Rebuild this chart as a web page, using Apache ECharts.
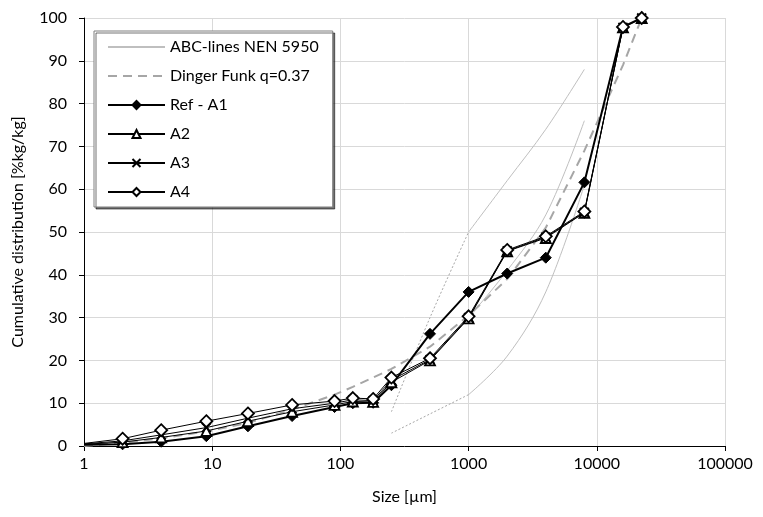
<!DOCTYPE html>
<html>
<head>
<meta charset="utf-8">
<script src="https://cdn.jsdelivr.net/npm/echarts@6/dist/echarts.min.js"></script>
<style>
html,body{margin:0;padding:0;background:#fff;}
#c{width:763px;height:517px;}
</style>
</head>
<body>
<div id="c"></div>
<script>
// Particle sizes [µm]
const sizes = [1, 2, 4, 9, 19, 42, 90, 125, 180, 250, 500, 1000, 2000, 4000, 8000, 16000, 22400];
// Cumulative distribution [%kg/kg]
const refA1 = [0.3, 0.4, 1.0, 2.3, 4.6, 7.0, 9.1, 10.0, 10.1, 14.2, 26.2, 36.0, 40.3, 44.0, 61.6, 97.9, 100];
const a2    = [0.4, 0.9, 2.0, 3.5, 5.8, 8.0, 9.6, 10.4, 10.3, 14.9, 20.0, 29.8, 45.5, 48.6, 54.5, 97.8, 100];
const a3    = [0.5, 1.2, 2.6, 4.3, 6.5, 8.7, 10.0, 10.8, 10.6, 15.4, 20.2, 30.0, 45.6, 48.8, 54.6, 97.8, 100];
const a4    = [0.6, 1.7, 3.7, 5.8, 7.6, 9.6, 10.5, 11.2, 11.0, 16.0, 20.5, 30.3, 45.8, 49.0, 54.8, 97.9, 100];
const dinger = [0, 0.8, 1.8, 3.4, 5.4, 8.5, 12.0, 13.8, 16.0, 18.0, 23.2, 30.5, 39.0, 51.0, 69.0, 89.0, 100];

// ABC-lines NEN 5950
const abcSizes = [1000, 2000, 4000, 8000];
const abcUpper = [50, 62, 74, 88];
const abcMiddle = [30, 41, 54, 76];
const abcLower = [12, 21, 36, 61];
const abcDotSizes = [250, 500, 1000];
const abcUpperDot = [8, 30, 50];
const abcLowerDot = [3, 7.5, 12];

const xTicks = ['1', '10', '100', '1000', '10000', '100000'];

function pairs(xs, ys, hideFirst) {
  return xs.map((x, i) => {
    if (hideFirst && i === 0) return { value: [x, ys[i]], symbol: 'none' };
    return [x, ys[i]];
  });
}

const FONT = 'Lato';
const ABC = 'ABC-lines NEN 5950';
const DF = 'Dinger Funk q=0.37';

const abcSolid = (ys) => ({
  name: ABC, type: 'line', data: pairs(abcSizes, ys), symbol: 'none', smooth: 0.35,
  lineStyle: { color: '#bfbfbf', width: 1 }, itemStyle: { color: '#bfbfbf' }, z: 1
});
const abcDot = (ys) => ({
  name: ABC, type: 'line', data: pairs(abcDotSizes, ys), symbol: 'none', smooth: 0.35,
  lineStyle: { color: '#a6a6a6', width: 1, type: [2, 2] }, itemStyle: { color: '#bfbfbf' }, z: 1
});

const xPath = 'path://M0,0L10,10M10,0L0,10';

const option = {
  animation: false,
  backgroundColor: '#fff',
  textStyle: { fontFamily: FONT },
  grid: { left: 84, top: 18, right: 38, bottom: 71, containLabel: false },
  xAxis: {
    type: 'log', logBase: 10, min: 1, max: 100000,
    name: 'Size [µm]', nameLocation: 'middle', nameGap: 43,
    nameTextStyle: { fontFamily: FONT, fontSize: 16, color: '#000' },
    axisLine: { lineStyle: { color: '#000', width: 1 } },
    axisTick: { show: true, inside: false, length: 5, lineStyle: { color: '#000' } },
    minorTick: { show: false },
    axisLabel: {
      fontFamily: FONT, fontSize: 16, color: '#000', margin: 10,
      formatter: function (v) {
        const e = Math.round(Math.log10(v));
        return xTicks[e] !== undefined ? xTicks[e] : '';
      }
    },
    splitLine: { show: true, lineStyle: { color: '#d9d9d9', width: 1 } }
  },
  yAxis: {
    type: 'value', min: 0, max: 100, interval: 10,
    name: 'Cumulative distribution [%kg/kg]', nameLocation: 'middle', nameGap: 58, nameRotate: 90,
    nameTextStyle: { fontFamily: FONT, fontSize: 16, color: '#000' },
    axisLine: { show: true, lineStyle: { color: '#000', width: 1 } },
    axisTick: { show: true, inside: false, length: 5, lineStyle: { color: '#000' } },
    axisLabel: { fontFamily: FONT, fontSize: 16, color: '#000', margin: 17 },
    splitLine: { show: true, lineStyle: { color: '#d9d9d9', width: 1 } }
  },
  legend: {
    orient: 'vertical', left: 94, top: 31,
    data: [
      { name: ABC, itemStyle: { opacity: 0 } },
      { name: DF, itemStyle: { opacity: 0 } },
      'Ref - A1', 'A2', 'A3', 'A4'
    ],
    itemWidth: 57, itemHeight: 10, itemGap: 13,
    padding: [8, 14, 7, 13],
    backgroundColor: '#fff',
    borderColor: '#7f7f7f', borderWidth: 1,
    shadowColor: 'rgba(0,0,0,0.55)', shadowBlur: 0, shadowOffsetX: 2, shadowOffsetY: 2,
    textStyle: { fontFamily: FONT, fontSize: 16, color: '#000' }
  },
  series: [
    abcSolid(abcUpper),
    abcSolid(abcMiddle),
    abcSolid(abcLower),
    abcDot(abcUpperDot),
    abcDot(abcLowerDot),
    {
      name: DF, type: 'line', data: pairs(sizes, dinger), symbol: 'none',
      lineStyle: { color: '#a6a6a6', width: 2, type: [9, 6] }, itemStyle: { color: '#a6a6a6' }, z: 2
    },
    {
      name: 'Ref - A1', type: 'line', data: pairs(sizes, refA1, true),
      symbol: 'diamond', symbolSize: 11,
      lineStyle: { color: '#000', width: 2 },
      itemStyle: { color: '#000', borderColor: '#000', borderWidth: 1 }, z: 3
    },
    {
      name: 'A2', type: 'line', data: pairs(sizes, a2, true),
      symbol: 'triangle', symbolSize: 10,
      lineStyle: { color: '#000', width: 1 },
      itemStyle: { color: '#fff', borderColor: '#000', borderWidth: 1.8 }, z: 4
    },
    {
      name: 'A3', type: 'line', data: pairs(sizes, a3, true),
      symbol: xPath, symbolSize: 9,
      lineStyle: { color: '#000', width: 1 },
      itemStyle: { color: 'rgba(0,0,0,0)', borderColor: '#000', borderWidth: 1.8 }, z: 5
    },
    {
      name: 'A4', type: 'line', data: pairs(sizes, a4, true),
      symbol: 'diamond', symbolSize: 12,
      lineStyle: { color: '#000', width: 1 },
      itemStyle: { color: '#fff', borderColor: '#000', borderWidth: 1.8 }, z: 6
    }
  ]
};

const chart = echarts.init(document.getElementById('c'), null, { renderer: 'canvas' });
chart.setOption(option);
</script>
</body>
</html>
